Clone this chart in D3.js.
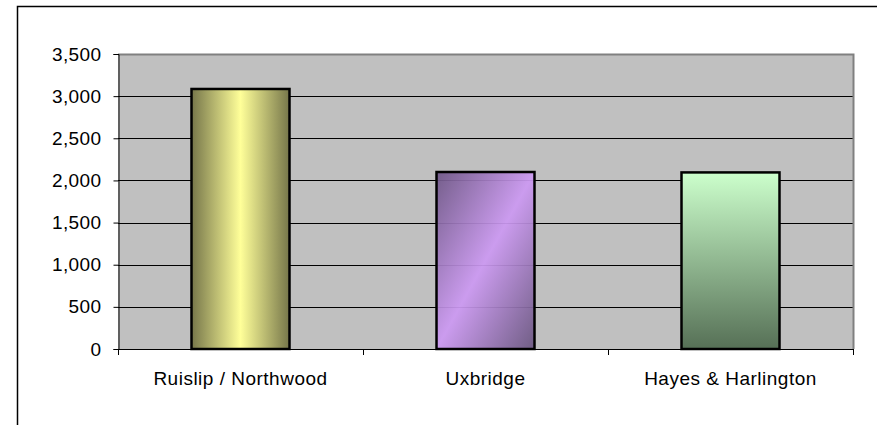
<!DOCTYPE html>
<html>
<head>
<meta charset="utf-8">
<script src="https://cdn.jsdelivr.net/npm/d3@7"></script>
<style>
  html, body { margin: 0; padding: 0; background: #fff; }
  svg { display: block; font-family: "Liberation Sans", Arial, sans-serif; }
</style>
</head>
<body>
<div id="chart"></div>
<script>
// Chart data
const categories = ["Ruislip / Northwood", "Uxbridge", "Hayes & Harlington"];
const values = [3085, 2100, 2095];
const yTicks = [0, 500, 1000, 1500, 2000, 2500, 3000, 3500];

const width = 877, height = 425;
const plot = { left: 118, right: 853, top: 54, bottom: 349 };

const svg = d3.select("#chart").append("svg")
    .attr("width", width)
    .attr("height", height);

// Gradients for each bar
const defs = svg.append("defs");

const g1 = defs.append("linearGradient").attr("id", "grad0")
    .attr("x1", 0).attr("y1", 0).attr("x2", 1).attr("y2", 0);
g1.append("stop").attr("offset", 0).attr("stop-color", "#76764a");
g1.append("stop").attr("offset", 0.5).attr("stop-color", "#ffff99");
g1.append("stop").attr("offset", 1).attr("stop-color", "#76764a");

const g2 = defs.append("linearGradient").attr("id", "grad1")
    .attr("x1", 0).attr("y1", 0).attr("x2", 1).attr("y2", 1);
g2.append("stop").attr("offset", 0).attr("stop-color", "#6e5686");
g2.append("stop").attr("offset", 0.5).attr("stop-color", "#cc99f2");
g2.append("stop").attr("offset", 1).attr("stop-color", "#6a5680");

const g3 = defs.append("linearGradient").attr("id", "grad2")
    .attr("x1", 0).attr("y1", 0).attr("x2", 0).attr("y2", 1);
g3.append("stop").attr("offset", 0).attr("stop-color", "#ccffcc");
g3.append("stop").attr("offset", 1).attr("stop-color", "#567056");

// Outer chart frame (cut off on the right and bottom)
svg.append("path")
    .attr("d", `M17.5,${height + 2} L17.5,6.5 L${width + 2},6.5`)
    .attr("fill", "none")
    .attr("stroke", "#000")
    .attr("stroke-width", 1.5);

// Scales
const xScale = d3.scaleBand()
    .domain(categories)
    .range([plot.left, plot.right])
    .padding(0);

const yScale = d3.scaleLinear()
    .domain([0, 3500])
    .range([plot.bottom, plot.top]);

// Plot area background
svg.append("rect")
    .attr("x", plot.left)
    .attr("y", plot.top)
    .attr("width", plot.right - plot.left)
    .attr("height", plot.bottom - plot.top)
    .attr("fill", "#c0c0c0");

// Gridlines
svg.append("g")
    .selectAll("line")
    .data(yTicks.filter(d => d > 0 && d < 3500))
    .enter()
    .append("line")
    .attr("x1", plot.left)
    .attr("x2", plot.right)
    .attr("y1", d => Math.round(yScale(d)) + 0.5)
    .attr("y2", d => Math.round(yScale(d)) + 0.5)
    .attr("stroke", "#000")
    .attr("stroke-width", 1);

// Plot area border (top and right in gray)
svg.append("path")
    .attr("d", `M${plot.left},${plot.top + 0.5} L${plot.right + 0.5},${plot.top + 0.5} L${plot.right + 0.5},${plot.bottom}`)
    .attr("fill", "none")
    .attr("stroke", "#808080")
    .attr("stroke-width", 2);

// Bars
const barWidth = xScale.bandwidth() * 0.4;
svg.append("g")
    .selectAll("rect")
    .data(categories.map((c, i) => ({ cat: c, value: values[i], i })))
    .enter()
    .append("rect")
    .attr("x", d => xScale(d.cat) + (xScale.bandwidth() - barWidth) / 2)
    .attr("y", d => yScale(d.value))
    .attr("width", barWidth)
    .attr("height", d => yScale(0) - yScale(d.value))
    .attr("fill", d => `url(#grad${d.i})`)
    .attr("fill-opacity", d => d.i === 1 ? 0.93 : 1)
    .attr("stroke", "#000")
    .attr("stroke-width", 2.5);

// Y axis
const yAxis = svg.append("g")
    .attr("transform", `translate(${plot.left + 0.5},0)`)
    .call(d3.axisLeft(yScale)
        .tickValues(yTicks)
        .tickSize(5)
        .tickPadding(12)
        .tickFormat(d3.format(",")));
yAxis.select(".domain").attr("stroke", "#000");
yAxis.selectAll("text")
    .attr("font-family", "'Liberation Sans', Arial, sans-serif")
    .style("font-size", "19px")
    .style("letter-spacing", "0.4px")
    .attr("fill", "#000");

// X axis line and boundary tick marks
const xAxis = svg.append("g");
xAxis.append("line")
    .attr("x1", plot.left)
    .attr("x2", plot.right + 1)
    .attr("y1", plot.bottom + 0.5)
    .attr("y2", plot.bottom + 0.5)
    .attr("stroke", "#000");
xAxis.selectAll(".xtick")
    .data(categories.map(c => xScale(c)).concat([plot.right]))
    .enter()
    .append("line")
    .attr("class", "xtick")
    .attr("x1", d => Math.round(d) + 0.5)
    .attr("x2", d => Math.round(d) + 0.5)
    .attr("y1", plot.bottom)
    .attr("y2", plot.bottom + 6)
    .attr("stroke", "#000");

// Category labels
xAxis.selectAll(".xlabel")
    .data(categories)
    .enter()
    .append("text")
    .attr("class", "xlabel")
    .attr("x", d => xScale(d) + xScale.bandwidth() / 2)
    .attr("y", 385)
    .attr("text-anchor", "middle")
    .style("font-size", "19px")
    .style("letter-spacing", "0.5px")
    .attr("fill", "#000")
    .text(d => d);
</script>
</body>
</html>
